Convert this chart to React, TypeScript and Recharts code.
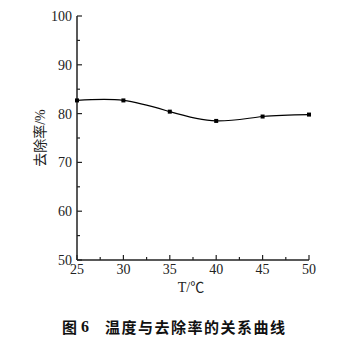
import React from 'react';
import { LineChart, Line, XAxis, YAxis } from 'recharts';

const temps = [25, 30, 35, 40, 45, 50];
const removal = [82.7, 82.7, 80.4, 78.5, 79.4, 79.8];
const xTicks = [25, 27.5, 30, 32.5, 35, 37.5, 40, 42.5, 45, 47.5, 50];
const xMajor = [25, 30, 35, 40, 45, 50];
const yTicks = [50, 55, 60, 65, 70, 75, 80, 85, 90, 95, 100];
const yMajor = [50, 60, 70, 80, 90, 100];
const yLabel = '去除率/%';
const xLabel = 'T/℃';
const figNo = '图';
const figNum = '6';
const caption = '温度与去除率的关系曲线';

const data = temps.map((t, i) => ({ t, r: removal[i] }));

const serif = "'Liberation Serif', 'Times New Roman', 'Noto Sans CJK SC', serif";
const ink = '#222';

const XTick = (props: any) => {
  const { x, y, payload } = props;
  const v = payload.value;
  const major = xMajor.includes(v);
  return (
    <g>
      <line x1={x} x2={x} y1={y} y2={y - (major ? 5 : 3)} stroke={ink} strokeWidth={1.2} />
      {major && (
        <text x={x} y={y + 14} textAnchor="middle" fontFamily={serif} fontSize={14} fill={ink}>
          {v}
        </text>
      )}
    </g>
  );
};

const YTick = (props: any) => {
  const { x, y, payload } = props;
  const v = payload.value;
  const major = yMajor.includes(v);
  return (
    <g>
      <line x1={x} x2={x + (major ? 5 : 3)} y1={y} y2={y} stroke={ink} strokeWidth={1.2} />
      {major && (
        <text x={x - 5} y={y + 5} textAnchor="end" fontFamily={serif} fontSize={14} fill={ink}>
          {v}
        </text>
      )}
    </g>
  );
};

const SquareDot = (props: any) => {
  const { cx, cy } = props;
  if (cx == null || cy == null) return <g />;
  return <rect x={cx - 2} y={cy - 2} width={4} height={4} fill="#000" />;
};

export default function App() {
  return (
    <div style={{ position: 'absolute', left: 0, top: 0, width: 359, height: 352, background: '#fff' }}>
      <LineChart
        width={359}
        height={352}
        data={data}
        margin={{ top: 16, right: 50, bottom: 62, left: 0 }}
      >
        <XAxis
          dataKey="t"
          type="number"
          domain={[25, 50]}
          ticks={xTicks}
          interval={0}
          height={30}
          tickSize={0}
          tickMargin={0}
          tickLine={false}
          axisLine={{ stroke: ink, strokeWidth: 1.5 }}
          tick={<XTick />}
        />
        <YAxis
          type="number"
          domain={[50, 100]}
          ticks={yTicks}
          interval={0}
          width={77}
          tickSize={0}
          tickMargin={0}
          tickLine={false}
          axisLine={{ stroke: ink, strokeWidth: 1.5 }}
          tick={<YTick />}
        />
        <Line
          type="natural"
          dataKey="r"
          stroke="#000"
          strokeWidth={1.2}
          dot={<SquareDot />}
          activeDot={false}
          isAnimationActive={false}
        />
        <text
          x={40}
          y={138}
          transform="rotate(-90 40 138)"
          textAnchor="middle"
          dominantBaseline="central"
          fontFamily={serif}
          fontSize={14}
          fill={ink}
        >
          {yLabel}
        </text>
        <text x={191} y={292} textAnchor="middle" fontFamily={serif} fontSize={14} fill={ink}>
          {xLabel}
        </text>
      </LineChart>
      <div
        style={{
          position: 'absolute',
          top: 318,
          left: 0,
          width: 359,
          height: 18,
          fontFamily: "'Noto Sans CJK SC', sans-serif",
          fontWeight: 700,
          fontSize: 15,
          lineHeight: '18px',
          color: '#111',
        }}
      >
        <span style={{ position: 'absolute', left: 62 }}>{figNo}</span>
        <span style={{ position: 'absolute', left: 81, fontFamily: serif, fontSize: 16 }}>{figNum}</span>
        <span style={{ position: 'absolute', left: 105, letterSpacing: 1.5, whiteSpace: 'nowrap' }}>{caption}</span>
      </div>
    </div>
  );
}
